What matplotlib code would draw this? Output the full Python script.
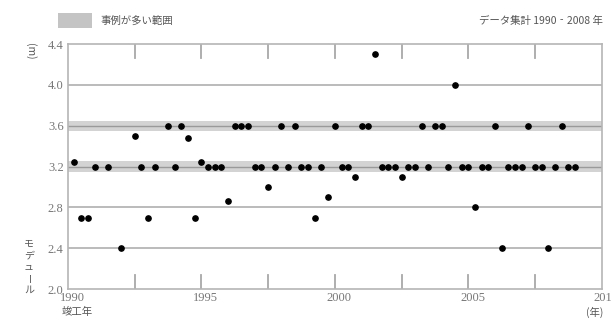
import matplotlib
matplotlib.use("Agg")
import matplotlib.pyplot as plt
import matplotlib.transforms as mtrans
from matplotlib.patches import Rectangle

# 竣工年 (四半期単位) とモデュール(m)
years = [1990.25, 1990.5, 1990.75, 1991.0, 1991.5, 1992.0, 1992.5, 1992.75,
         1993.0, 1993.25, 1993.75, 1994.0, 1994.25, 1994.5, 1994.75,
         1995.0, 1995.25, 1995.5, 1995.75, 1996.0, 1996.25, 1996.5, 1996.75,
         1997.0, 1997.25, 1997.5, 1997.75, 1998.0, 1998.25, 1998.5, 1998.75,
         1999.0, 1999.25, 1999.5, 1999.75, 2000.0, 2000.25, 2000.5, 2000.75,
         2001.0, 2001.25, 2001.5, 2001.75, 2002.0, 2002.25, 2002.5, 2002.75,
         2003.0, 2003.25, 2003.5, 2003.75, 2004.0, 2004.25, 2004.5, 2004.75,
         2005.0, 2005.25, 2005.5, 2005.75, 2006.0, 2006.25, 2006.5, 2006.75,
         2007.0, 2007.25, 2007.5, 2007.75, 2008.0, 2008.25, 2008.5, 2008.75,
         2009.0]
modules = [3.24, 2.7, 2.7, 3.2, 3.2, 2.4, 3.5, 3.2,
           2.7, 3.2, 3.6, 3.2, 3.6, 3.48, 2.7,
           3.24, 3.2, 3.2, 3.2, 2.86, 3.6, 3.6, 3.6,
           3.2, 3.2, 3.0, 3.2, 3.6, 3.2, 3.6, 3.2,
           3.2, 2.7, 3.2, 2.9, 3.6, 3.2, 3.2, 3.1,
           3.6, 3.6, 4.3, 3.2, 3.2, 3.2, 3.1, 3.2,
           3.2, 3.6, 3.2, 3.6, 3.6, 3.2, 4.0, 3.2,
           3.2, 2.8, 3.2, 3.2, 3.6, 2.4, 3.2, 3.2,
           3.2, 3.6, 3.2, 3.2, 2.4, 3.2, 3.6, 3.2,
           3.2]

band_centers = [3.2, 3.6]   # 事例が多い範囲
grid_values = [2.4, 2.8, 4.0]
yticks = [2.0, 2.4, 2.8, 3.2, 3.6, 4.0, 4.4]
xticks = [1990, 1995, 2000, 2005, 2010]
minor_x = [1992.5, 1995, 1997.5, 2000, 2002.5, 2005, 2007.5]

jp = ['Noto Sans CJK JP', 'DejaVu Sans']
num_font = 'Liberation Serif'
gray_txt = '#777777'
frame_c = '#b5b5b5'

fig = plt.figure(figsize=(6.11, 3.24), dpi=100)
ax = fig.add_axes([0.111, 0.108, 0.874, 0.756])
ax.set_xlim(1990, 2010)
ax.set_ylim(2.0, 4.4)

for c in band_centers:
    ax.axhspan(c - 0.05, c + 0.05, color='#d3d3d3', lw=0, zorder=1)
    ax.axhline(c, color='#9a9a9a', lw=1.0, zorder=2)
for g in grid_values:
    ax.axhline(g, color='#a8a8a8', lw=1.1, zorder=2)
for xm in minor_x:
    ax.axvline(xm, ymin=0, ymax=0.058, color='#a8a8a8', lw=1.3, zorder=2)
    ax.axvline(xm, ymin=0.942, ymax=1, color='#a8a8a8', lw=1.3, zorder=2)

ax.plot(years, modules, 'o', color='black', markersize=3.8, zorder=5)

for s in ax.spines.values():
    s.set_color(frame_c)
    s.set_linewidth(1.2)
ax.tick_params(length=0, pad=3)
ax.set_yticks(yticks)
ax.set_yticklabels(['%.1f' % v for v in yticks], fontname=num_font, fontsize=9, color=gray_txt)
ax.set_xticks(xticks)
ax.set_xticklabels([str(v) for v in xticks], fontname=num_font, fontsize=9, color=gray_txt)
ax.tick_params(axis='x', pad=2)
off = mtrans.ScaledTranslation(3 / 72, 0, fig.dpi_scale_trans)
for lab in ax.get_xticklabels():
    lab.set_transform(lab.get_transform() + off)

# 凡例
fig.patches.append(Rectangle((58 / 611, 1 - 28 / 324), 34 / 611, 15 / 324,
                             transform=fig.transFigure, facecolor='#c4c4c4',
                             edgecolor='none'))
fig.text(100 / 611, 1 - 21 / 324, '事例が多い範囲', family=jp, fontsize=7.5,
         color='#555555', va='center', ha='left')
fig.text(603 / 611, 1 - 21 / 324, 'データ集計 1990‐2008 年', family=jp, fontsize=7.5,
         color='#555555', va='center', ha='right')

# 軸ラベル (縦書き)
fig.text(30 / 611, 1 - 51 / 324, '(m)', family=jp, fontsize=7.5, color='#555555',
         rotation=-90, ha='center', va='center')
label = 'モデュール'
y0 = 244
for i, ch in enumerate(label):
    rot = -90 if ch == 'ー' else 0
    fig.text(29 / 611, 1 - (y0 + i * 11.5) / 324, ch, family=jp, fontsize=7.2,
             color='#555555', rotation=rot, ha='center', va='center')
fig.text(62 / 611, 1 - 312 / 324, '竣工年', family=jp, fontsize=7.5,
         color='#555555', ha='left', va='center')
fig.text(603 / 611, 1 - 312 / 324, '(年)', family=jp, fontsize=7.5,
         color='#555555', ha='right', va='center')

fig.savefig('out.png', dpi=100)
